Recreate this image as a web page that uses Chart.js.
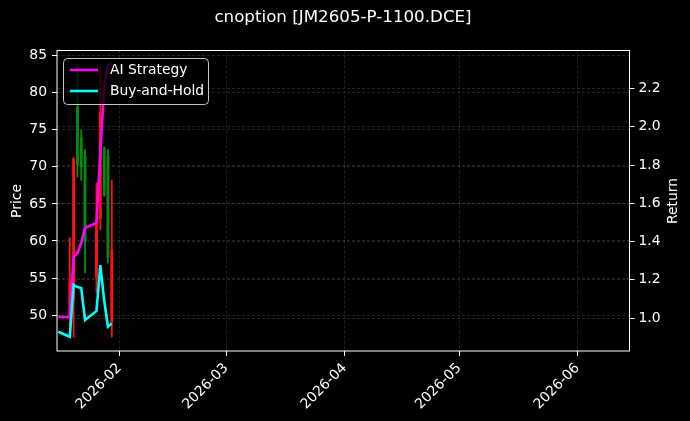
<!DOCTYPE html>
<html>
<head>
<meta charset="utf-8">
<script src="https://cdn.jsdelivr.net/npm/chart.js@4.4.1/dist/chart.umd.min.js"></script>
<style>
  html, body { margin: 0; padding: 0; background: #000; }
  #wrap { width: 690px; height: 421px; }
</style>
</head>
<body>
<div id="wrap"><canvas id="chart" width="690" height="421"></canvas></div>
<script>
/* ===============================
   DATA (x = day of 2026, Jan 1 = 0)
================================ */
const TITLE = 'cnoption [JM2605-P-1100.DCE]';

const lineDays = [15, 18, 19, 20, 21, 22, 25, 26, 27, 28, 29];
const aiStrategy = [1.007, 1.004, 1.319, 1.340, 1.392, 1.471, 1.497, 1.863, 2.203, 2.323, 2.33];
const buyHold = [0.928, 0.902, 1.173, 1.162, 1.157, 0.990, 1.037, 1.277, 1.094, 0.955, 0.972];

const candleDays = [18, 19, 20, 21, 22, 25, 26, 27, 28, 29];
const opens = [50.0, 52.0, 78.0, 74.0, 71.5, 55.0, 63.0, 72.5, 71.5, 49.0];
const highs = [60.5, 71.3, 83.9, 75.0, 72.3, 67.8, 83.5, 72.7, 72.3, 68.2];
const lows = [48.4, 47.0, 68.6, 68.2, 55.7, 53.0, 61.5, 66.0, 57.0, 47.0];
const closes = [54.6, 71.0, 70.3, 70.0, 59.9, 62.7, 77.3, 66.2, 57.8, 58.8];

const monthTickDays = [31, 59, 90, 120, 151];
const monthTickLabels = ['2026-02', '2026-03', '2026-04', '2026-05', '2026-06'];
const priceTicks = [50, 55, 60, 65, 70, 75, 80, 85];
const returnTicks = [1.0, 1.2, 1.4, 1.6, 1.8, 2.0, 2.2];

const UP = '#ff1010';
const DOWN = '#0a8a0a';
const FONT = 'DejaVu Sans';

/* ===============================
   HELPERS
================================ */
function candleColor(i) {
  return closes[i] >= opens[i] ? UP : DOWN;
}

function fixedTicks(values) {
  return (scale) => {
    scale.ticks = values.map((v) => ({ value: v }));
  };
}

const gridStyle = {
  color: 'rgba(255,255,255,0.22)',
  lineWidth: 0.6,
  drawTicks: true,
  tickLength: 5,
  tickColor: '#ffffff',
  tickWidth: 1,
  tickBorderDash: [],
};

/* ===============================
   PLUGINS (background, title, frame, legend)
================================ */
const decorPlugin = {
  id: 'decor',
  beforeDraw(chart) {
    const ctx = chart.ctx;
    ctx.save();
    ctx.fillStyle = '#000';
    ctx.fillRect(0, 0, chart.width, chart.height);
    ctx.restore();
  },
  afterDatasetsDraw(chart) {
    const { ctx, chartArea: a } = chart;
    ctx.save();
    ctx.setLineDash([]);
    ctx.strokeStyle = '#ffffff';
    ctx.lineWidth = 1;
    ctx.strokeRect(a.left, a.top, a.right - a.left, a.bottom - a.top);
    ctx.restore();
  },
  afterDraw(chart) {
    const ctx = chart.ctx;
    ctx.save();
    ctx.fillStyle = '#ffffff';
    ctx.textAlign = 'center';
    ctx.textBaseline = 'middle';
    ctx.font = '16.7px "' + FONT + '"';
    ctx.fillText(TITLE, 343, 18);

    // axis titles
    ctx.font = '13.9px "' + FONT + '"';
    ctx.save();
    ctx.translate(17, 201);
    ctx.rotate(-Math.PI / 2);
    ctx.fillText('Price', 0, 0);
    ctx.restore();
    ctx.save();
    ctx.translate(673, 201);
    ctx.rotate(-Math.PI / 2);
    ctx.fillText('Return', 0, 0);
    ctx.restore();

    // legend box
    const bx = 63.5, by = 58.5, bw = 145, bh = 46, r = 4;
    ctx.beginPath();
    ctx.moveTo(bx + r, by);
    ctx.arcTo(bx + bw, by, bx + bw, by + bh, r);
    ctx.arcTo(bx + bw, by + bh, bx, by + bh, r);
    ctx.arcTo(bx, by + bh, bx, by, r);
    ctx.arcTo(bx, by, bx + bw, by, r);
    ctx.closePath();
    ctx.fillStyle = 'rgba(0,0,0,0.8)';
    ctx.fill();
    ctx.strokeStyle = 'rgba(230,230,230,0.85)';
    ctx.lineWidth = 1;
    ctx.stroke();

    const entries = chart.data.datasets.filter((d) => d.type === 'line');
    entries.forEach((d, i) => {
      const y = 70 + i * 21;
      ctx.strokeStyle = d.borderColor;
      ctx.lineWidth = 2.6;
      ctx.beginPath();
      ctx.moveTo(70, y);
      ctx.lineTo(98, y);
      ctx.stroke();
      ctx.fillStyle = '#ffffff';
      ctx.textAlign = 'left';
      ctx.fillText(d.label, 110, y);
    });
    ctx.restore();
  },
};

/* ===============================
   CHART
================================ */
const wicks = candleDays.map((d, i) => ({ x: d, y: [lows[i], highs[i]] }));
const bodies = candleDays.map((d, i) => ({ x: d, y: [opens[i], closes[i]] }));

new Chart(document.getElementById('chart'), {
  data: {
    datasets: [
      {
        type: 'line',
        label: 'AI Strategy',
        data: lineDays.map((d, i) => ({ x: d, y: aiStrategy[i] })),
        yAxisID: 'yR',
        borderColor: '#ff00ff',
        borderWidth: 2.6,
        pointRadius: 0,
        tension: 0,
        order: 1,
      },
      {
        type: 'line',
        label: 'Buy-and-Hold',
        data: lineDays.map((d, i) => ({ x: d, y: buyHold[i] })),
        yAxisID: 'yR',
        borderColor: '#00ffff',
        borderWidth: 2.6,
        pointRadius: 0,
        tension: 0,
        order: 0,
      },
      {
        type: 'bar',
        label: 'wick',
        data: wicks,
        yAxisID: 'y',
        grouped: false,
        barThickness: 1.2,
        backgroundColor: (c) => candleColor(c.dataIndex),
        order: 3,
      },
      {
        type: 'bar',
        label: 'body',
        data: bodies,
        yAxisID: 'y',
        grouped: false,
        barThickness: 2.2,
        backgroundColor: (c) => candleColor(c.dataIndex),
        order: 2,
      },
    ],
  },
  options: {
    responsive: false,
    animation: false,
    devicePixelRatio: 1,
    layout: { padding: { top: 50.5, left: 0, right: 0, bottom: 0 } },
    plugins: {
      legend: { display: false },
      tooltip: { enabled: false },
      title: { display: false },
    },
    scales: {
      x: {
        type: 'linear',
        min: 14.65,
        max: 164.65,
        offset: false,
        afterBuildTicks: fixedTicks(monthTickDays),
        afterFit: (s) => { s.height = 70; },
        grid: { ...gridStyle, offset: false },
        border: { display: false, dash: [3, 2] },
        ticks: {
          color: '#ffffff',
          font: { family: FONT, size: 13.9 },
          padding: 4,
          autoSkip: false,
          minRotation: 45,
          maxRotation: 45,
          callback: (v) => monthTickLabels[monthTickDays.indexOf(v)] || '',
        },
      },
      y: {
        type: 'linear',
        position: 'left',
        min: 45.15,
        max: 85.7,
        beginAtZero: false,
        afterBuildTicks: fixedTicks(priceTicks),
        afterFit: (s) => { s.width = 57; },
        grid: gridStyle,
        border: { display: false, dash: [3, 2] },
        ticks: {
          color: '#ffffff',
          font: { family: FONT, size: 13.9 },
          padding: 5,
          callback: (v) => String(v),
        },
      },
      yR: {
        type: 'linear',
        position: 'right',
        min: 0.8275,
        max: 2.399,
        afterBuildTicks: fixedTicks(returnTicks),
        afterFit: (s) => { s.width = 60.5; },
        grid: gridStyle,
        border: { display: false, dash: [3, 2] },
        ticks: {
          color: '#ffffff',
          font: { family: FONT, size: 13.9 },
          padding: 4,
          callback: (v) => Number(v).toFixed(1),
        },
      },
    },
  },
  plugins: [decorPlugin],
});
</script>
</body>
</html>
